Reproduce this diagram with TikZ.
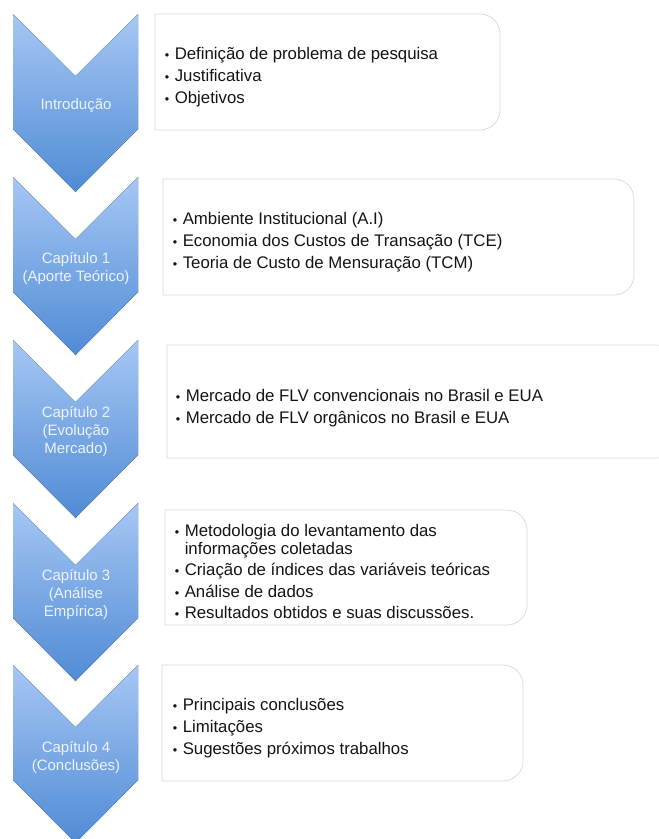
\documentclass[tikz,border=0pt]{standalone}
\usepackage{fontspec}
\setmainfont{Liberation Sans}
\definecolor{chevtop}{RGB}{166,199,244}
\definecolor{chevbot}{RGB}{80,139,213}
\definecolor{chevtext}{RGB}{236,243,252}
\definecolor{boxgray}{RGB}{216,216,216}
\definecolor{itemtext}{RGB}{20,20,20}

% chevron pointing down: #1 top edge (y grows downwards)
\newcommand\chevronshape[1]{%
  \fill[chevfill] (13,#1) -- (75.5,#1+62) -- (138,#1) -- (138,#1+115)
    -- (75.5,#1+178) -- (13,#1+115) -- cycle;}

% box with square left corners and rounded right corners
% #1 name, #2 left, #3 top, #4 right, #5 bottom
\newcommand\sidebox[5]{%
  \coordinate (#1-nw) at (#2,#3);
  \coordinate (#1-se) at (#4,#5);
  \draw[boxline] (#1-nw) -- ({#4-20},#3)
    .. controls ({#4-8.95},#3) and (#4,{#3+8.95}) .. (#4,{#3+20})
    -- (#4,{#5-20})
    .. controls (#4,{#5-8.95}) and ({#4-8.95},#5) .. ({#4-20},#5)
    -- (#2,#5) -- cycle;}

% small list bullet, same advance as the full-size one
\newcommand\bul{\makebox[5.9pt][c]{\fontsize{12.5}{12.5}\selectfont •}}

\begin{document}
\begin{tikzpicture}[x=1pt,y=-1pt,
  chevfill/.style={top color=chevtop, bottom color=chevbot, draw=none},
  chevlabel/.style={text=chevtext, align=center, inner sep=0pt,
    font=\fontsize{15}{18}\selectfont},
  boxline/.style={draw=boxgray, line width=0.7pt},
  boxtext/.style={anchor=west, align=left, inner sep=0pt, text=itemtext,
    font=\fontsize{16.8}{17.5}\selectfont}]
\useasboundingbox (0,0) rectangle (659,839);
\clip (0,0) rectangle (659,839);

% chapter chevrons
\chevronshape{14}
\chevronshape{177}
\chevronshape{340}
\chevronshape{503}
\chevronshape{665}

\node[chevlabel] (c0) at (76,106) {Introdução};
\node[chevlabel] (c1) at (76,269) {Capítulo 1\\(Aporte Teórico)};
\node[chevlabel] (c2) at (76,432) {Capítulo 2\\(Evolução\\Mercado)};
\node[chevlabel] (c3) at (76,595) {Capítulo 3\\(Análise\\Empírica)};
\node[chevlabel] (c4) at (76,758) {Capítulo 4\\(Conclusões)};

% content boxes
\sidebox{b0}{155}{14}{500}{130}
\sidebox{b1}{163}{179}{634}{295}
\sidebox{b2}{167}{345}{677}{458}
\sidebox{b3}{165}{510}{527}{625}
\sidebox{b4}{162}{665}{523}{781}

\node[boxtext] (t0) at (164,77) {\bul{} Definição de problema de pesquisa\\[4.5pt]
  \bul{} Justificativa\\[4.5pt]
  \bul{} Objetivos};
\node[boxtext] (t1) at (172,242) {\bul{} Ambiente Institucional (A.I)\\[4.5pt]
  \bul{} Economia dos Custos de Transação (TCE)\\[4.5pt]
  \bul{} Teoria de Custo de Mensuração (TCM)};
\node[boxtext] (t2) at (175,408) {\bul{} Mercado de FLV convencionais no Brasil e EUA\\[4.5pt]
  \bul{} Mercado de FLV orgânicos no Brasil e EUA};
\node[boxtext] (t3) at (174,571.5) {\bul{} Metodologia do levantamento das\\
  \phantom{\bul{} }informações coletadas\\[4pt]
  \bul{} Criação de índices das variáveis teóricas\\[4pt]
  \bul{} Análise de dados\\[4pt]
  \bul{} Resultados obtidos e suas discussões.};
\node[boxtext] (t4) at (172,728) {\bul{} Principais conclusões\\[4.5pt]
  \bul{} Limitações\\[4.5pt]
  \bul{} Sugestões próximos trabalhos};
\end{tikzpicture}
\end{document}
